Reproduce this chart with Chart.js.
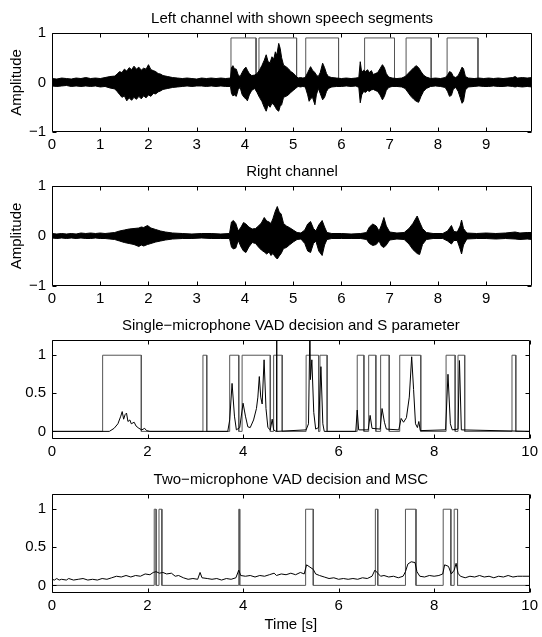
<!DOCTYPE html>
<html>
<head>
<meta charset="utf-8">
<script src="https://cdn.jsdelivr.net/npm/chart.js@4"></script>
<style>
  body { margin: 0; background: #fff; }
  #fig { position: relative; width: 542px; height: 637px; }
  #fig canvas { position: absolute; left: 0; }
</style>
</head>
<body>
<div id="fig">
  <canvas id="left" width="542" height="160" style="top:0px"></canvas>
  <canvas id="right" width="542" height="161" style="top:153px"></canvas>
  <canvas id="single" width="542" height="160" style="top:307px"></canvas>
  <canvas id="dual" width="542" height="176" style="top:461px"></canvas>
</div>
<script>
// left channel envelope: time [s], upper and lower amplitude
const leftTime = [0.00,0.10,0.20,0.30,0.40,0.50,0.60,0.70,0.80,0.90,1.00,1.10,1.20,
  1.30,1.35,1.40,1.45,1.50,1.55,1.60,1.65,1.70,1.75,1.80,1.85,1.90,1.95,2.00,2.05,2.10,2.15,2.20,2.25,2.30,2.40,2.50,2.60,
  2.70,2.80,2.90,3.00,3.10,3.20,3.30,3.40,3.50,3.60,
  3.70,3.72,3.75,3.78,3.82,3.86,3.90,3.94,3.98,4.02,4.05,4.09,4.14,4.20,4.25,4.30,4.35,4.40,4.44,4.48,4.52,4.56,4.60,4.63,4.66,4.70,4.73,4.76,4.80,4.85,4.90,4.95,5.00,5.05,5.10,5.15,5.20,
  5.25,5.30,5.33,5.36,5.40,5.45,5.48,5.52,5.56,5.61,5.65,5.69,5.73,5.80,5.90,6.00,6.10,6.20,6.30,
  6.36,6.39,6.42,6.46,6.50,6.54,6.58,6.62,6.66,6.70,6.75,6.80,6.85,6.89,6.93,6.98,7.05,7.15,7.25,
  7.32,7.38,7.44,7.50,7.55,7.60,7.65,7.70,7.76,7.85,7.95,8.05,8.15,
  8.20,8.24,8.28,8.32,8.37,8.42,8.46,8.50,8.53,8.57,8.63,8.75,8.85,8.95,9.05,9.15,9.25,9.35,9.45,9.55,9.60,9.65,9.75,9.85,9.95];
const leftUpper = [0.08,0.07,0.09,0.08,0.07,0.09,0.08,0.10,0.08,0.09,0.08,0.10,0.12,
  0.13,0.17,0.22,0.20,0.27,0.23,0.30,0.26,0.33,0.27,0.31,0.25,0.29,0.27,0.36,0.26,0.24,0.22,0.18,0.17,0.14,0.12,0.10,0.09,
  0.08,0.09,0.08,0.07,0.09,0.08,0.09,0.08,0.09,0.08,
  0.09,0.30,0.34,0.28,0.27,0.15,0.12,0.20,0.27,0.31,0.25,0.18,0.14,0.15,0.18,0.25,0.34,0.45,0.56,0.42,0.40,0.52,0.48,0.62,0.55,0.79,0.69,0.50,0.35,0.32,0.28,0.22,0.19,0.14,0.09,0.10,0.09,
  0.10,0.20,0.26,0.32,0.25,0.20,0.15,0.12,0.20,0.39,0.30,0.18,0.12,0.10,0.09,0.08,0.09,0.08,0.09,
  0.10,0.42,0.20,0.25,0.22,0.26,0.20,0.24,0.16,0.18,0.20,0.28,0.36,0.30,0.18,0.11,0.09,0.08,0.09,
  0.12,0.18,0.24,0.30,0.34,0.30,0.22,0.15,0.11,0.08,0.09,0.08,0.10,
  0.15,0.22,0.20,0.12,0.10,0.14,0.22,0.31,0.28,0.12,0.09,0.08,0.09,0.08,0.09,0.08,0.09,0.08,0.09,0.10,0.12,0.09,0.10,0.09,0.10];
const leftLower = [-0.07,-0.08,-0.07,-0.06,-0.08,-0.07,-0.08,-0.07,-0.08,-0.07,-0.09,-0.08,-0.11,
  -0.13,-0.18,-0.24,-0.30,-0.27,-0.37,-0.31,-0.36,-0.30,-0.34,-0.28,-0.33,-0.27,-0.31,-0.25,-0.28,-0.22,-0.23,-0.19,-0.17,-0.14,-0.12,-0.10,-0.09,
  -0.08,-0.07,-0.08,-0.07,-0.07,-0.08,-0.07,-0.08,-0.07,-0.08,
  -0.08,-0.22,-0.27,-0.25,-0.28,-0.14,-0.10,-0.24,-0.30,-0.33,-0.37,-0.25,-0.16,-0.12,-0.20,-0.30,-0.38,-0.50,-0.58,-0.45,-0.50,-0.42,-0.45,-0.50,-0.55,-0.58,-0.48,-0.45,-0.30,-0.28,-0.25,-0.20,-0.16,-0.12,-0.08,-0.09,-0.08,
  -0.09,-0.25,-0.38,-0.33,-0.30,-0.45,-0.25,-0.12,-0.22,-0.35,-0.30,-0.18,-0.12,-0.09,-0.08,-0.08,-0.07,-0.08,-0.07,
  -0.10,-0.41,-0.25,-0.18,-0.20,-0.16,-0.18,-0.15,-0.14,-0.16,-0.18,-0.25,-0.35,-0.28,-0.16,-0.10,-0.08,-0.08,-0.09,
  -0.12,-0.20,-0.28,-0.34,-0.38,-0.40,-0.28,-0.18,-0.12,-0.08,-0.07,-0.08,-0.10,
  -0.18,-0.28,-0.26,-0.13,-0.10,-0.18,-0.30,-0.42,-0.38,-0.15,-0.09,-0.08,-0.07,-0.08,-0.08,-0.07,-0.08,-0.08,-0.07,-0.08,-0.09,-0.08,-0.09,-0.08,-0.09];
const speechStart = [3.71, 4.29, 5.26, 6.48, 7.34, 8.19];
const speechEnd = [4.23, 5.07, 5.94, 7.10, 7.86, 8.83];

// right channel envelope
const rightTime = [0.00,0.10,0.20,0.30,0.40,0.50,0.60,0.70,0.80,0.90,1.00,1.10,1.20,
  1.30,1.40,1.50,1.60,1.70,1.80,1.85,1.90,1.98,2.05,2.15,2.25,2.35,2.50,2.70,2.90,3.10,3.30,3.50,3.68,
  3.72,3.76,3.81,3.86,3.92,3.97,4.02,4.08,4.15,4.22,4.28,4.34,4.40,4.45,4.50,4.54,4.58,4.63,4.67,4.71,4.75,4.80,4.86,4.92,5.00,5.08,5.16,
  5.24,5.30,5.36,5.42,5.47,5.53,5.60,5.65,5.70,5.80,6.00,6.20,6.40,
  6.52,6.58,6.65,6.72,6.78,6.83,6.88,6.93,7.00,7.15,7.30,7.40,7.48,7.57,7.62,7.68,7.76,7.90,8.10,
  8.20,8.28,8.33,8.40,8.46,8.49,8.53,8.60,8.80,9.00,9.20,9.40,9.60,9.70,9.85,9.95];
const rightUpper = [0.05,0.04,0.05,0.04,0.05,0.04,0.06,0.05,0.06,0.05,0.06,0.05,0.06,
  0.07,0.10,0.12,0.14,0.15,0.16,0.18,0.17,0.21,0.16,0.13,0.10,0.08,0.06,0.05,0.04,0.05,0.05,0.04,0.05,
  0.28,0.31,0.25,0.10,0.18,0.27,0.24,0.18,0.14,0.15,0.20,0.26,0.37,0.30,0.28,0.25,0.35,0.50,0.59,0.48,0.44,0.25,0.20,0.17,0.12,0.07,0.06,
  0.12,0.24,0.29,0.15,0.10,0.22,0.31,0.18,0.07,0.05,0.05,0.04,0.05,
  0.07,0.18,0.24,0.20,0.10,0.22,0.37,0.20,0.08,0.06,0.07,0.15,0.25,0.40,0.28,0.15,0.07,0.05,0.05,
  0.10,0.21,0.09,0.08,0.20,0.32,0.15,0.06,0.05,0.06,0.05,0.06,0.08,0.06,0.07,0.07];
const rightLower = [-0.04,-0.05,-0.04,-0.05,-0.04,-0.05,-0.04,-0.05,-0.05,-0.04,-0.05,-0.05,-0.06,
  -0.07,-0.10,-0.13,-0.15,-0.17,-0.21,-0.18,-0.20,-0.17,-0.15,-0.12,-0.10,-0.08,-0.06,-0.05,-0.05,-0.04,-0.05,-0.05,-0.05,
  -0.22,-0.26,-0.24,-0.09,-0.22,-0.30,-0.33,-0.22,-0.13,-0.15,-0.22,-0.28,-0.32,-0.36,-0.32,-0.39,-0.35,-0.42,-0.46,-0.40,-0.35,-0.25,-0.23,-0.18,-0.12,-0.07,-0.06,
  -0.15,-0.30,-0.33,-0.15,-0.10,-0.30,-0.39,-0.18,-0.07,-0.05,-0.05,-0.05,-0.05,
  -0.07,-0.15,-0.19,-0.17,-0.10,-0.20,-0.23,-0.18,-0.08,-0.06,-0.07,-0.16,-0.27,-0.35,-0.37,-0.17,-0.07,-0.05,-0.05,
  -0.10,-0.16,-0.09,-0.09,-0.26,-0.36,-0.18,-0.06,-0.05,-0.05,-0.06,-0.05,-0.06,-0.07,-0.06,-0.07];

// single-microphone VAD decision (on/off times) and S parameter
const singleOn = [1.06, 3.16, 3.72, 3.98, 4.64, 5.32, 5.61, 6.39, 6.63, 6.88, 7.28, 8.25, 8.50, 9.63];
const singleOff = [1.87, 3.24, 3.91, 4.57, 4.82, 5.58, 5.76, 6.53, 6.78, 7.06, 7.72, 8.44, 8.64, 9.71];
const sTime = [0,1.20,1.30,1.38,1.44,1.47,1.50,1.53,1.56,1.59,1.63,1.66,1.72,1.76,1.82,1.88,1.94,1.98,2.05,3.68,3.72,3.77,3.82,3.86,3.93,4.00,4.05,4.10,4.15,4.22,4.28,4.31,4.34,4.37,4.40,4.44,4.48,4.52,4.57,4.61,4.64,4.69,4.70,4.71,5.32,5.37,5.40,5.41,5.44,5.48,5.52,5.58,5.63,5.67,5.70,6.36,6.39,6.42,6.62,6.66,6.70,6.87,6.91,6.96,7.00,7.26,7.31,7.36,7.42,7.48,7.53,7.57,7.61,7.65,7.68,7.71,8.24,8.29,8.34,8.38,8.50,8.53,8.57,10];
const sValue = [0,0,0.04,0.10,0.20,0.26,0.16,0.22,0.24,0.13,0.15,0.10,0.12,0.07,0.04,0.02,0.04,0.01,0,0,0.15,0.63,0.20,0.02,0.05,0.37,0.20,0.06,0.05,0.15,0.30,0.45,0.72,0.45,0.36,0.94,0.30,0.05,0.02,0.16,0.02,0,1.4,0,0.02,0.10,1.4,0.68,0.94,0.25,0.03,0.05,0.85,0.10,0,0,0.28,0.02,0.02,0.21,0.04,0.03,0.30,0.12,0.03,0.02,0.17,0.12,0.18,0.45,0.98,0.55,0.10,0.05,0.13,0.01,0.02,0.75,0.10,0.02,0.03,0.93,0.02,0];

// two-microphone VAD decision and MSC
const dualOn = [2.14, 2.24, 3.91, 5.31, 6.77, 7.40, 8.19, 8.42];
const dualOff = [2.18, 2.30, 3.93, 5.47, 6.82, 7.62, 8.35, 8.49];
const mscTime = [0.00,0.05,0.10,0.15,0.20,0.30,0.35,0.45,0.55,0.65,0.75,0.85,0.95,1.05,1.15,1.25,1.35,1.45,1.55,1.65,1.75,1.85,1.95,2.05,2.12,2.18,2.25,2.32,2.40,2.50,2.58,2.65,2.75,2.85,2.95,3.05,3.10,3.14,3.25,3.35,3.45,3.55,3.65,3.75,3.85,3.91,3.95,4.05,4.15,4.25,4.35,4.45,4.55,4.65,4.70,4.80,4.90,5.00,5.10,5.20,5.28,5.33,5.40,5.47,5.52,5.60,5.70,5.80,5.90,6.00,6.10,6.20,6.30,6.40,6.50,6.60,6.70,6.76,6.82,6.88,6.95,7.05,7.15,7.25,7.35,7.40,7.45,7.52,7.60,7.64,7.70,7.80,7.90,8.00,8.10,8.18,8.22,8.30,8.36,8.42,8.46,8.50,8.55,8.65,8.75,8.85,8.95,9.05,9.15,9.25,9.35,9.45,9.55,9.65,9.75,9.85,10.0];
const mscValue = [0.08,0.07,0.09,0.07,0.08,0.07,0.09,0.07,0.08,0.09,0.07,0.08,0.07,0.09,0.08,0.10,0.12,0.11,0.13,0.11,0.13,0.12,0.15,0.14,0.17,0.18,0.16,0.17,0.15,0.16,0.12,0.13,0.10,0.08,0.09,0.08,0.17,0.10,0.09,0.08,0.09,0.07,0.09,0.08,0.10,0.20,0.13,0.12,0.13,0.11,0.13,0.12,0.14,0.16,0.13,0.15,0.14,0.16,0.14,0.17,0.15,0.27,0.24,0.21,0.15,0.13,0.11,0.09,0.10,0.08,0.09,0.08,0.09,0.08,0.10,0.09,0.12,0.20,0.16,0.12,0.13,0.11,0.12,0.10,0.12,0.18,0.28,0.31,0.30,0.18,0.12,0.11,0.13,0.12,0.13,0.15,0.27,0.25,0.15,0.20,0.29,0.16,0.12,0.10,0.12,0.11,0.13,0.11,0.12,0.10,0.12,0.11,0.13,0.11,0.12,0.12,0.12];

const xTicksWave = [0, 1, 2, 3, 4, 5, 6, 7, 8, 9];
const xTicksVad = [0, 2, 4, 6, 8, 10];
const yTicksWave = [-1, 0, 1];
const yTicksVad = [0, 0.5, 1];

Chart.defaults.font.family = '"Liberation Sans", Arial, Helvetica, sans-serif';
Chart.defaults.font.size = 15;
Chart.defaults.color = '#000';

const pts = (xs, ys) => xs.map((x, i) => ({x: x, y: ys[i]}));

// rectangular on/off trace from segment boundaries
function pulses(on, off, high, end) {
  const p = [{x: 0, y: 0}];
  on.forEach((s, i) => {
    p.push({x: s, y: 0}, {x: s, y: high}, {x: off[i], y: high}, {x: off[i], y: 0});
  });
  p.push({x: end, y: 0});
  return p;
}

// box with inward tick marks on all four sides
const boxAxes = {
  id: 'boxAxes',
  afterDatasetsDraw(chart) {
    const {ctx, chartArea: a, scales: {x, y}} = chart;
    const L = Math.round(a.left) + 0.5, R = Math.round(a.right) - 0.5;
    const T = Math.round(a.top) + 0.5, B = Math.round(a.bottom) - 0.5;
    const len = 4;
    ctx.save();
    ctx.strokeStyle = '#000';
    ctx.lineWidth = 1;
    ctx.beginPath();
    x.ticks.forEach(t => {
      const px = Math.round(x.getPixelForValue(t.value)) + 0.5;
      ctx.moveTo(px, T); ctx.lineTo(px, T + len);
      ctx.moveTo(px, B); ctx.lineTo(px, B - len);
    });
    y.ticks.forEach(t => {
      const py = Math.round(y.getPixelForValue(t.value)) + 0.5;
      ctx.moveTo(L, py); ctx.lineTo(L + len, py);
      ctx.moveTo(R, py); ctx.lineTo(R - len, py);
    });
    ctx.rect(L, T, R - L, B - T);
    ctx.stroke();
    ctx.restore();
  }
};

const fmt = v => (v < 0 ? '\u2212' + Math.abs(v) : String(v));

function makePanel(id, opt) {
  new Chart(document.getElementById(id), {
    type: 'line',
    data: {datasets: opt.datasets},
    options: {
      responsive: false,
      animation: false,
      events: [],
      layout: {padding: {left: 0, right: 10, top: 0, bottom: 0}},
      elements: {point: {radius: 0}, line: {tension: 0, borderWidth: 1}},
      plugins: {
        legend: {display: false},
        tooltip: {enabled: false},
        title: {
          display: true,
          fullSize: false,
          text: opt.title,
          font: {size: 15, weight: 'normal'},
          padding: {top: 10, bottom: 5}
        }
      },
      scales: {
        x: {
          type: 'linear',
          min: 0,
          max: opt.xMax,
          afterBuildTicks: s => { s.ticks = opt.xTicks.map(v => ({value: v})); },
          afterFit: s => { s.height = opt.xHeight; },
          grid: {display: false, drawTicks: false},
          border: {display: false},
          ticks: {padding: 4, maxRotation: 0, autoSkip: false},
          title: {
            display: !!opt.xTitle,
            text: opt.xTitle || '',
            font: {size: 15},
            padding: {top: 0, bottom: 3}
          }
        },
        y: {
          min: opt.yMin,
          max: opt.yMax,
          afterBuildTicks: s => { s.ticks = opt.yTicks.map(v => ({value: v})); },
          afterFit: s => { s.width = 52; },
          grid: {display: false, drawTicks: false},
          border: {display: false},
          ticks: {padding: 6, callback: v => fmt(v)},
          title: {
            display: !!opt.yTitle,
            text: opt.yTitle || '',
            font: {size: 15},
            padding: {top: 8, bottom: 0}
          }
        }
      }
    },
    plugins: [boxAxes]
  });
}

// filled band between upper and lower envelope
function waveSets(t, hi, lo, extra) {
  return [
    {data: pts(t, hi), borderColor: '#000', backgroundColor: '#000', fill: '+1'},
    {data: pts(t, lo), borderColor: '#000', backgroundColor: '#000', fill: false}
  ].concat(extra);
}

makePanel('left', {
  title: 'Left channel with shown speech segments',
  yTitle: 'Amplitude',
  xMax: 9.95, xTicks: xTicksWave, xHeight: 28,
  yMin: -1, yMax: 1, yTicks: yTicksWave,
  datasets: waveSets(leftTime, leftUpper, leftLower, [
    {data: pulses(speechStart, speechEnd, 0.9, 9.95), borderColor: '#555', fill: false}
  ])
});

makePanel('right', {
  title: 'Right channel',
  yTitle: 'Amplitude',
  xMax: 9.95, xTicks: xTicksWave, xHeight: 28,
  yMin: -1, yMax: 1, yTicks: yTicksWave,
  datasets: waveSets(rightTime, rightUpper, rightLower, [])
});

makePanel('single', {
  title: 'Single\u2212microphone VAD decision and S parameter',
  xMax: 10, xTicks: xTicksVad, xHeight: 28,
  yMin: -0.1, yMax: 1.2, yTicks: yTicksVad,
  datasets: [
    {data: pts(sTime, sValue), borderColor: '#000', fill: false},
    {data: pulses(singleOn, singleOff, 1, 10), borderColor: '#555', fill: false}
  ]
});

makePanel('dual', {
  title: 'Two\u2212microphone VAD decision and MSC',
  xTitle: 'Time [s]',
  xMax: 10, xTicks: xTicksVad, xHeight: 44,
  yMin: -0.1, yMax: 1.2, yTicks: yTicksVad,
  datasets: [
    {data: pts(mscTime, mscValue), borderColor: '#000', fill: false},
    {data: pulses(dualOn, dualOff, 1, 10), borderColor: '#555', fill: false}
  ]
});
</script>
</body>
</html>
